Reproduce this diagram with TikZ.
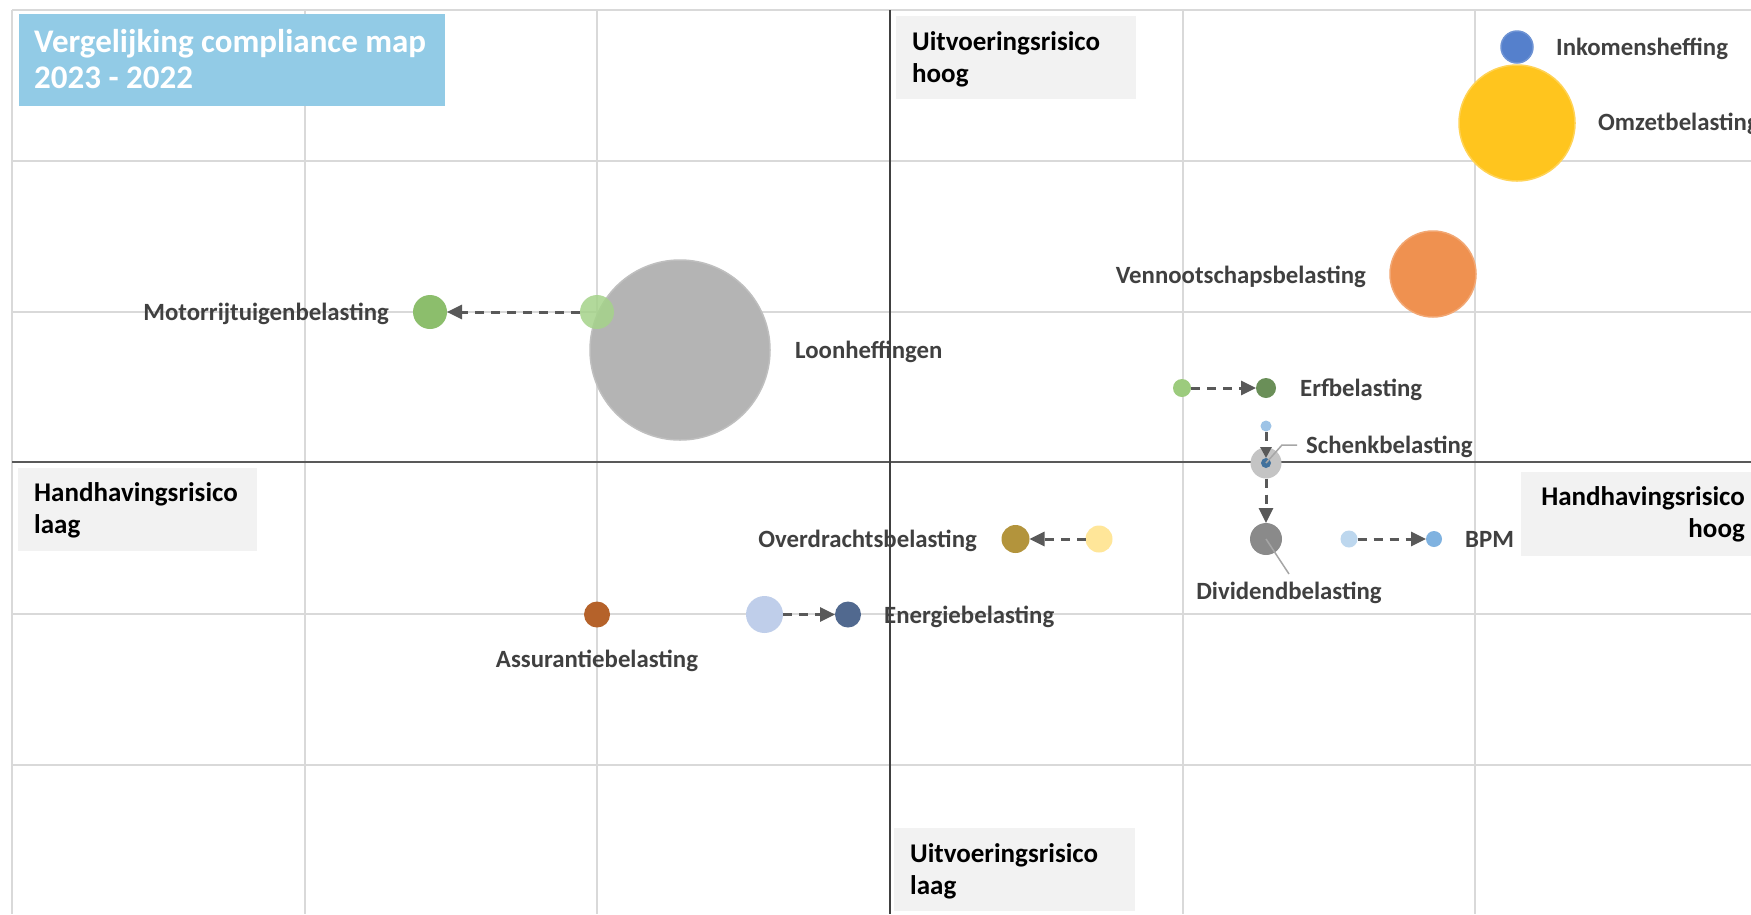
\documentclass[tikz,border=0pt]{standalone}
\usepackage{fontspec}
\setmainfont{Carlito}
\usetikzlibrary{arrows.meta}
\definecolor{gridc}{HTML}{D9D9D9}
\definecolor{axisc}{HTML}{595959}
\definecolor{vaxisc}{HTML}{404040}
\definecolor{titlec}{HTML}{92CBE6}
\definecolor{boxc}{HTML}{F2F2F2}
\definecolor{labc}{HTML}{404040}
\definecolor{arrc}{HTML}{595959}
\definecolor{leadc}{HTML}{A6A6A6}
\definecolor{inkc}{HTML}{5580CC}
\definecolor{omzc}{HTML}{FFC51E}
\definecolor{vpbc}{HTML}{EF9150}
\definecolor{lhc}{HTML}{B4B4B4}
\definecolor{mrbold}{HTML}{A5D38A}
\definecolor{mrbnew}{HTML}{8CBE6C}
\definecolor{erfold}{HTML}{9CCB7D}
\definecolor{erfnew}{HTML}{6A8F58}
\definecolor{skold}{HTML}{9DC3E6}
\definecolor{sknew}{HTML}{41719C}
\definecolor{dvold}{HTML}{C4C4C4}
\definecolor{dvnew}{HTML}{8A8A8A}
\definecolor{bpmold}{HTML}{BDD7EE}
\definecolor{bpmnew}{HTML}{7FB2E0}
\definecolor{odold}{HTML}{FFE699}
\definecolor{odnew}{HTML}{B3943C}
\definecolor{ebold}{HTML}{BFCEEA}
\definecolor{ebnew}{HTML}{51698F}
\definecolor{abc}{HTML}{B5622A}
\begin{document}
\begin{tikzpicture}[x=1pt,y=-1pt,
  gridline/.style={draw=gridc, line width=2pt},
  bub/.style={circle, inner sep=0pt, outer sep=0pt, line width=1.5pt},
  lab/.style={font=\fontsize{24.8}{29}\selectfont\bfseries, text=labc, inner sep=0pt},
  quad/.style={fill=boxc, inner sep=0pt, anchor=north west},
  quadtext/.style={font=\fontsize{27}{32}\selectfont\bfseries, text=black, inner sep=0pt, text width=225pt},
  titletext/.style={font=\fontsize{33}{36}\selectfont\bfseries, text=white, inner sep=0pt, text width=410pt, align=flush left},
  dasharrow/.style={draw=arrc, line width=3pt, dash pattern=on 9pt off 7pt, -{Triangle[length=15pt,width=14pt]}},
  leader/.style={draw=leadc, line width=1.5pt},
]
\useasboundingbox (0,0) rectangle (1751,914);
\clip (0,0) rectangle (1751,914);
\fill[white] (0,0) rectangle (1751,914);
% grid
\foreach \gx in {12,305,597,1183,1475} \draw[gridline] (\gx,10) -- (\gx,914);
\foreach \gy in {10,161,312,614,765} \draw[gridline] (12,\gy) -- (1751,\gy);
% axes
\draw[draw=axisc, line width=2pt] (12,462) -- (1751,462);
\draw[draw=vaxisc, line width=1.5pt] (890,10) -- (890,914);
% boxes
\node[quad, fill=titlec, minimum width=426pt, minimum height=92pt] (titlebox) at (19,14) {};
\node[titletext, anchor=base west] (title) at (34,52) {Vergelijking compliance map\\2023 - 2022};
\node[quad, minimum width=240pt, minimum height=83pt] (uhbox) at (896,16) {};
\node[quadtext, align=flush left, anchor=base west] (uhtext) at (912,50) {Uitvoeringsrisico\\hoog};
\node[quad, minimum width=241pt, minimum height=83pt] (ulbox) at (894,828) {};
\node[quadtext, align=flush left, anchor=base west] (ultext) at (910,862) {Uitvoeringsrisico\\laag};
\node[quad, minimum width=239pt, minimum height=83pt] (hlbox) at (18,468) {};
\node[quadtext, align=flush left, anchor=base west] (hltext) at (34,501) {Handhavingsrisico\\laag};
\node[quad, minimum width=250pt, minimum height=84pt] (hhbox) at (1521,472) {};
\node[quadtext, align=flush right, anchor=base east] (hhtext) at (1745,505) {Handhavingsrisico\\hoog};
% bubbles
\node[bub, fill=inkc, draw=inkc!85!white, minimum size=32pt] (ink) at (1517,47) {};
\node[bub, fill=omzc, draw=omzc!75!white, minimum size=116pt] (omz) at (1517,123) {};
\node[bub, fill=vpbc, draw=vpbc!80!white, minimum size=86pt] (vpb) at (1433,274) {};
\node[bub, fill=lhc, draw=lhc!85!white, minimum size=180pt] (lh) at (680,350) {};
\node[bub, fill=mrbold, fill opacity=0.85, minimum size=34pt] (mrb22) at (597,312) {};
\node[bub, fill=mrbnew, minimum size=34pt] (mrb23) at (430,312) {};
\node[bub, fill=erfold, minimum size=18pt] (erf22) at (1182,388) {};
\node[bub, fill=erfnew, minimum size=20pt] (erf23) at (1266,388) {};
\node[bub, fill=skold, minimum size=11pt] (sk22) at (1266,426) {};
\node[bub, fill=dvold, minimum size=31pt] (dv22) at (1266,463) {};
\node[bub, fill=sknew, minimum size=10pt] (sk23) at (1266,463) {};
\node[bub, fill=dvnew, minimum size=32pt] (dv23) at (1266,539) {};
\node[bub, fill=bpmold, minimum size=17pt] (bpm22) at (1349,539) {};
\node[bub, fill=bpmnew, minimum size=16pt] (bpm23) at (1434,539) {};
\node[bub, fill=odnew, minimum size=28pt] (od23) at (1015.5,539) {};
\node[bub, fill=odold, minimum size=27pt] (od22) at (1099,539) {};
\node[bub, fill=ebold, minimum size=37pt] (eb22) at (764.5,614.5) {};
\node[bub, fill=ebnew, minimum size=26pt] (eb23) at (848,614.5) {};
\node[bub, fill=abc, minimum size=26pt] (ab) at (597,614.5) {};
% arrows
\draw[dasharrow] (mrb22) -- (mrb23);
\draw[dasharrow] (erf22) -- (erf23);
\draw[dasharrow, -{Triangle[length=11pt,width=11pt]}] (sk22) -- (sk23);
\draw[dasharrow] (dv22) -- (dv23);
\draw[dasharrow] (bpm22) -- (bpm23);
\draw[dasharrow] (od22) -- (od23);
\draw[dasharrow] (eb22) -- (eb23);
% leader lines
\coordinate (skbend) at (1282,445);
\coordinate (skend) at (1297,445);
\draw[leader] (sk23.center) -- (skbend) -- (skend);
\coordinate (dvend) at (1289,574);
\draw[leader] (dv23.center) -- (dvend);
% labels
\node[lab, anchor=base west] (inklab) at (1556,55) {Inkomensheffing};
\node[lab, anchor=base west] (omzlab) at (1598,130) {Omzetbelasting};
\node[lab, anchor=base east] (vpblab) at (1366,283) {Vennootschapsbelasting};
\node[lab, anchor=base east] (mrblab) at (389,320) {Motorrijtuigenbelasting};
\node[lab, anchor=base west] (lhlab) at (795,358) {Loonheffingen};
\node[lab, anchor=base west] (erflab) at (1300,396) {Erfbelasting};
\node[lab, anchor=base west] (sklab) at (1306,453) {Schenkbelasting};
\node[lab, anchor=base east] (odlab) at (977,547) {Overdrachtsbelasting};
\node[lab, anchor=base west] (bpmlab) at (1465,547) {BPM};
\node[lab, anchor=base] (dvlab) at (1289,599) {Dividendbelasting};
\node[lab, anchor=base west] (eblab) at (884,623) {Energiebelasting};
\node[lab, anchor=base] (ablab) at (597,667) {Assurantiebelasting};
\end{tikzpicture}
\end{document}
